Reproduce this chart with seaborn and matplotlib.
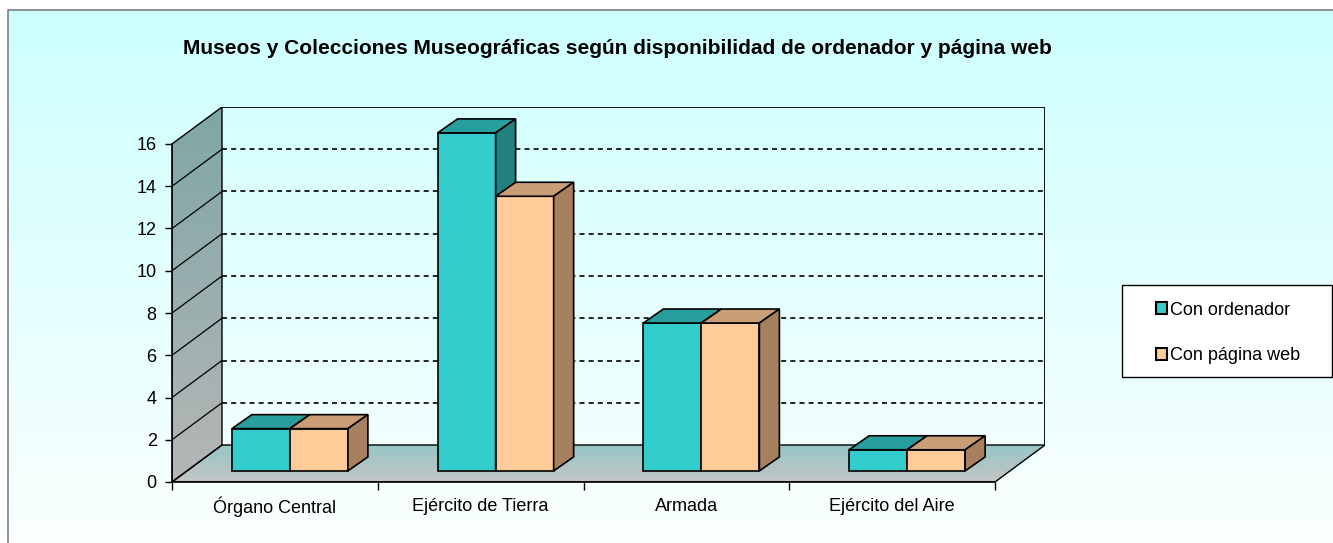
import matplotlib
matplotlib.use("Agg")
import matplotlib.pyplot as plt
from matplotlib.patches import Polygon, Rectangle, Patch
from matplotlib.colors import to_rgb, to_hex
import seaborn as sns
import numpy as np
import pandas as pd

# datos
categorias = ["Órgano Central", "Ejército de Tierra", "Armada", "Ejército del Aire"]
con_ordenador = [2, 16, 7, 1]
con_pagina_web = [2, 13, 7, 1]
series = ["Con ordenador", "Con página web"]
titulo = "Museos y Colecciones Museográficas según disponibilidad de ordenador y página web"
yticks = list(range(0, 17, 2))

colores = {"Con ordenador": "#33cccc", "Con página web": "#ffcc99"}
tapa = {"#33cccc": "#299e9e", "#ffcc99": "#c99e76"}
lado = {"#33cccc": "#22807e", "#ffcc99": "#a7805f"}

df = pd.DataFrame({
    "categoria": categorias * 2,
    "serie": [series[0]] * len(categorias) + [series[1]] * len(categorias),
    "valor": con_ordenador + con_pagina_web,
})

sns.set_style("white")
plt.rcParams["font.family"] = ["Liberation Sans", "DejaVu Sans"]
plt.rcParams["text.color"] = "black"
plt.rcParams["xtick.color"] = "black"
plt.rcParams["ytick.color"] = "black"

W, H = 1333, 543
fig = plt.figure(figsize=(W / 100, H / 100), dpi=100)

# fondo degradado
bg = fig.add_axes([0, 0, 1, 1], zorder=-10)
bg.set_xlim(0, W)
bg.set_ylim(H, 0)
bg.axis("off")
c_top, c_bot = np.array(to_rgb("#ccffff")), np.array(to_rgb("#fafffe"))
g = np.linspace(0, 1, 256)[:, None, None]
bg.imshow(c_top + (c_bot - c_top) * g, extent=(8, W, H, 10), aspect="auto")
bg.plot([8, 8, W], [H, 10, 10], color="#7f7f7f", lw=1.2)

# profundidad (en unidades de datos)
DX, DY = 50 / 205.75, 37 / 21.125
F = 0.3
BDX, BDY = 20 / 205.75, 14 / 21.125

ax = fig.add_axes([172 / W, (H - 482) / H, 873 / W, 375 / H])
ax.set_facecolor("none")
sns.barplot(data=df, x="categoria", y="valor", hue="serie", palette=colores,
            width=0.564, saturation=1, edgecolor="black", linewidth=1.2,
            errorbar=None, legend=False, ax=ax)
bars = list(ax.patches)


def degradado(verts, c1, c2, z):
    poly = Polygon(verts, closed=True, facecolor="none", edgecolor="black", lw=1.0, zorder=z + 0.1)
    ax.add_patch(poly)
    xs = [v[0] for v in verts]
    ys = [v[1] for v in verts]
    a, b = np.array(to_rgb(c1)), np.array(to_rgb(c2))
    gg = np.linspace(0, 1, 128)[:, None, None]
    im = ax.imshow(a + (b - a) * gg, extent=(min(xs), max(xs), min(ys), max(ys)),
                   origin="upper", aspect="auto", zorder=z)
    im.set_clip_path(poly)


# suelo y pared lateral
degradado([(-0.5, 0), (3.5, 0), (3.5 + DX, DY), (-0.5 + DX, DY)], "#98c6c6", "#c4c4c4", 0.5)
degradado([(-0.5, 0), (-0.5 + DX, DY), (-0.5 + DX, 16 + DY), (-0.5, 16)], "#7ea6a6", "#b6b6b6", 0.5)

# pared del fondo
ax.plot([-0.5 + DX, 3.5 + DX, 3.5 + DX], [16 + DY, 16 + DY, DY], color="black", lw=1.3, zorder=1)
for v in yticks[1:-1]:
    ax.plot([-0.5 + DX, 3.5 + DX], [v + DY, v + DY], color="black", lw=1.2,
            ls=(0, (3, 2.5)), zorder=1)
    ax.plot([-0.5, -0.5 + DX], [v, v + DY], color="black", lw=0.9, zorder=1)

# barras en 3D
for b in bars:
    fc = to_hex(b.get_facecolor()[:3])
    z = 3 if fc == "#33cccc" else 4
    x, w, h = b.get_x() + F * DX, b.get_width(), b.get_height()
    y = F * DY
    b.set_x(x)
    b.set_y(y)
    b.set_zorder(z)
    ax.add_patch(Polygon([(x, y + h), (x + w, y + h), (x + w + BDX, y + h + BDY), (x + BDX, y + h + BDY)],
                         closed=True, facecolor=tapa[fc], edgecolor="black", lw=1.2, zorder=z))
    ax.add_patch(Polygon([(x + w, y), (x + w, y + h), (x + w + BDX, y + h + BDY), (x + w + BDX, y + BDY)],
                         closed=True, facecolor=lado[fc], edgecolor="black", lw=1.2, zorder=z))

ax.set_xlim(-0.5, 3.5 + DX)
ax.set_ylim(0, 16 + DY)
ax.set_xlabel("")
ax.set_ylabel("")
for s in ["top", "right"]:
    ax.spines[s].set_visible(False)
ax.spines["left"].set_bounds(0, 16)
ax.spines["bottom"].set_bounds(-0.5, 3.5)
for s in ["left", "bottom"]:
    ax.spines[s].set_color("black")
    ax.spines[s].set_linewidth(1.2)
    ax.spines[s].set_zorder(2)

ax.set_yticks(yticks)
ax.tick_params(axis="y", left=True, length=5, width=1, labelsize=13, pad=6, color="black")
ax.set_xticks(range(len(categorias)))
ax.set_xticklabels(categorias)
ax.set_xticks([-0.5, 0.5, 1.5, 2.5, 3.5], minor=True)
ax.tick_params(axis="x", which="major", length=0, labelsize=13, pad=17.5)
ax.tick_params(axis="x", which="minor", bottom=True, length=6, width=1, color="black")
for t in ax.get_xticklabels():
    t.set_va("center")

fig.text(617 / W, 1 - 48 / H, titulo, ha="center", va="center", fontsize=15, fontweight="bold")

# leyenda
fig.patches.append(Rectangle((1122 / W, 1 - 377 / H), 210 / W, 92 / H, transform=fig.transFigure,
                             facecolor="white", edgecolor="black", lw=1.0, zorder=1))
handles = [Patch(facecolor=colores[s], edgecolor="black", lw=1.5) for s in series]
fig.legend(handles, series, loc="center left", bbox_to_anchor=(1147 / W, 1 - 333 / H),
           frameon=False, fontsize=13, handlelength=0.6, handleheight=0.6,
           handletextpad=0.15, labelspacing=1.6, borderpad=0)

fig.savefig("out.png", dpi=100)
